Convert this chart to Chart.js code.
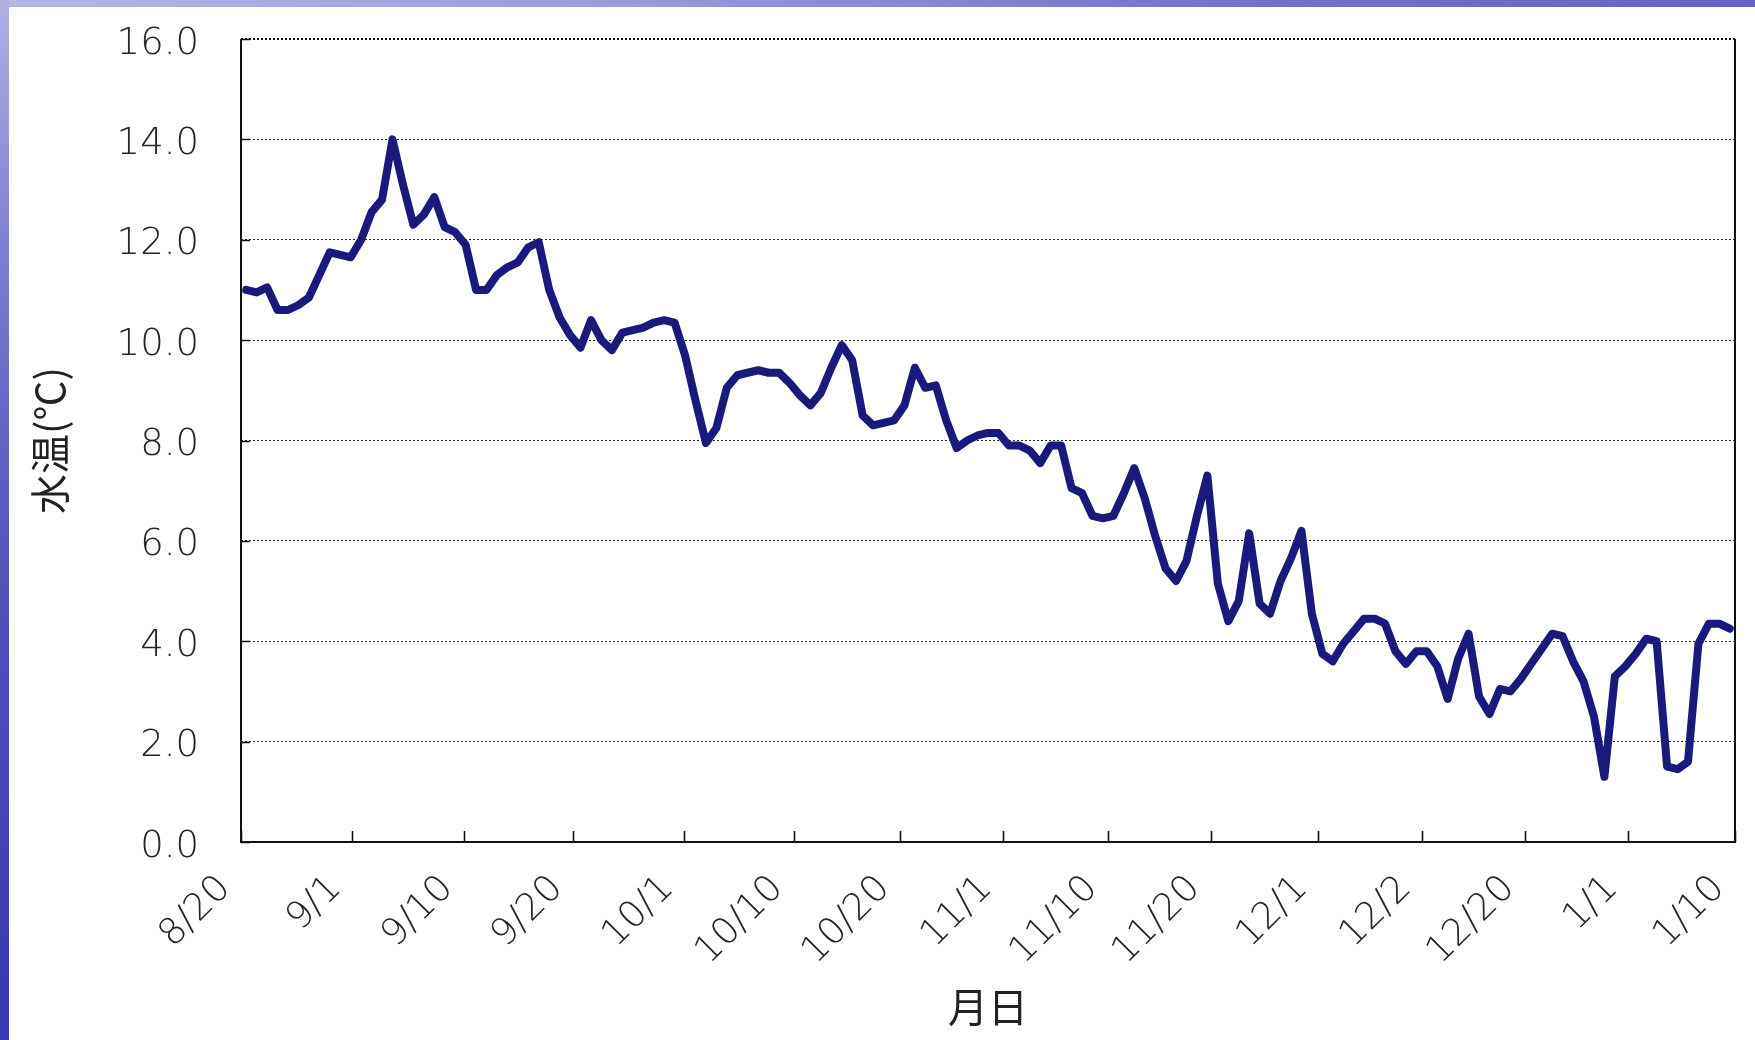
<!DOCTYPE html>
<html>
<head>
<meta charset="utf-8">
<script src="https://cdn.jsdelivr.net/npm/chart.js@4.4.1/dist/chart.umd.min.js"></script>
<style>
  html, body { margin: 0; padding: 0; background: #ffffff; width: 1755px; height: 1040px; overflow: hidden; }
  #bandTop { position: absolute; left: 0; top: 0; width: 1755px; height: 7px;
    background: linear-gradient(to right, #b6b6e6 0%, #9a9adc 35%, #7474cc 70%, #6262c2 100%); }
  #bandLeft { position: absolute; left: 0; top: 0; width: 9px; height: 1040px;
    background: linear-gradient(to bottom, #b0b0e6 0%, #7c7cd0 25%, #5252bc 55%, #3838b0 100%); }
  #wrap { position: absolute; left: 0; top: 0; width: 1755px; height: 1040px; }
</style>
</head>
<body>
<div id="bandTop"></div>
<div id="bandLeft"></div>
<div id="wrap"><canvas id="c" width="1755" height="1040"></canvas></div>
<script>
// ---- data ----
const tickLabels = ['8/20','9/1','9/10','9/20','10/1','10/10','10/20','11/1','11/10','11/20','12/1','12/2','12/20','1/1','1/10'];
// category-boundary positions (in units of data points) where the labelled tick marks sit
const tickPos = [0, 10.6, 21.3, 31.8, 42.4, 52.9, 63.1, 72.9, 83, 92.8, 103.1, 113, 122.9, 132.8, 143];
const yTicks = [0, 2, 4, 6, 8, 10, 12, 14, 16];
const waterTemp = [
  11.0, 10.95, 11.05, 10.6, 10.6, 10.7, 10.85, 11.3, 11.75, 11.7,
  11.65, 12.0, 12.55, 12.8, 14.0, 13.1, 12.3, 12.5, 12.85, 12.25,
  12.15, 11.9, 11.0, 11.0, 11.3, 11.45, 11.55, 11.85, 11.95, 11.0,
  10.45, 10.1, 9.85, 10.4, 10.0, 9.8, 10.15, 10.2, 10.25, 10.35,
  10.4, 10.35, 9.7, 8.8, 7.95, 8.25, 9.05, 9.3, 9.35, 9.4,
  9.35, 9.35, 9.15, 8.9, 8.7, 8.95, 9.45, 9.9, 9.6, 8.5,
  8.3, 8.35, 8.4, 8.7, 9.45, 9.05, 9.1, 8.4, 7.85, 8.0,
  8.1, 8.15, 8.15, 7.9, 7.9, 7.8, 7.55, 7.9, 7.9, 7.05,
  6.95, 6.5, 6.45, 6.5, 6.95, 7.45, 6.85, 6.1, 5.45, 5.2,
  5.6, 6.5, 7.3, 5.15, 4.4, 4.8, 6.15, 4.75, 4.55, 5.2,
  5.65, 6.2, 4.55, 3.75, 3.6, 3.95, 4.2, 4.45, 4.45, 4.35,
  3.8, 3.55, 3.8, 3.8, 3.5, 2.85, 3.65, 4.15, 2.9, 2.55,
  3.05, 3.0, 3.25, 3.55, 3.85, 4.15, 4.1, 3.6, 3.2, 2.5,
  1.3, 3.3, 3.5, 3.75, 4.05, 4.0, 1.5, 1.45, 1.6, 3.95,
  4.35, 4.35, 4.25
];
const xTitle = '月日';
const yTitle = '水温(℃)';

// ---- chart ----
const tickFont = { family: "'DejaVu Sans', 'Liberation Sans', sans-serif", size: 37, weight: 300 };
const titleFont = { family: "'Noto Sans CJK JP', 'Noto Sans CJK KR', sans-serif", size: 40, weight: 'normal' };

const framePlugin = {
  id: 'frame',
  beforeDatasetsDraw(chart) {
    const { ctx, chartArea: a, scales: { x, y } } = chart;
    ctx.save();
    ctx.strokeStyle = '#111';
    ctx.lineWidth = 2;
    ctx.beginPath();
    ctx.moveTo(a.left, a.top);
    ctx.lineTo(a.left, a.bottom);
    ctx.lineTo(a.right, a.bottom);
    ctx.lineTo(a.right, a.top);
    ctx.stroke();
    ctx.setLineDash([2, 2]);
    ctx.beginPath();
    ctx.moveTo(a.left, a.top);
    ctx.lineTo(a.right, a.top);
    ctx.stroke();
    ctx.setLineDash([]);
    ctx.lineWidth = 1.6;
    ctx.beginPath();
    x.ticks.forEach(t => {
      const px = Math.round(x.getPixelForValue(t.value)) + 0.5;
      ctx.moveTo(px, a.bottom);
      ctx.lineTo(px, a.bottom - 11);
    });
    y.ticks.forEach(t => {
      const py = Math.round(y.getPixelForValue(t.value)) + 0.5;
      ctx.moveTo(a.left, py);
      ctx.lineTo(a.left + 9, py);
    });
    ctx.stroke();
    ctx.restore();
  }
};

new Chart(document.getElementById('c'), {
  type: 'line',
  data: {
    datasets: [{
      data: waterTemp.map((v, i) => ({ x: i + 0.5, y: v })),
      borderColor: '#1a1a7c',
      borderWidth: 8,
      pointRadius: 0,
      tension: 0,
      borderJoinStyle: 'round',
      borderCapStyle: 'round',
      fill: false
    }]
  },
  options: {
    responsive: false,
    animation: false,
    devicePixelRatio: 1,
    layout: { autoPadding: false, padding: { left: 0, top: 39, right: 20, bottom: 0 } },
    plugins: { legend: { display: false }, tooltip: { enabled: false } },
    scales: {
      x: {
        type: 'linear',
        min: 0,
        max: waterTemp.length,
        afterBuildTicks: s => { s.ticks = tickPos.map(v => ({ value: v })); },
        afterFit: s => { s.height = 198; s.paddingLeft = 0; s.paddingRight = 0; s.paddingTop = 0; s.paddingBottom = 0; },
        grid: { display: false, drawTicks: false },
        border: { display: false },
        ticks: {
          autoSkip: false,
          minRotation: 45,
          maxRotation: 45,
          padding: 25,
          labelOffset: -16,
          color: '#262626',
          font: tickFont,
          callback: (v, i) => tickLabels[i]
        },
        title: { display: true, text: xTitle, color: '#222', font: titleFont, padding: { top: 0, bottom: 9 } }
      },
      y: {
        min: 0,
        max: 16,
        afterBuildTicks: s => { s.ticks = yTicks.map(v => ({ value: v })); },
        afterFit: s => { s.width = 241; s.paddingTop = 0; s.paddingBottom = 0; s.paddingLeft = 0; s.paddingRight = 0; },
        grid: { color: '#2a2a2a', lineWidth: 1, drawTicks: false },
        border: { display: false, dash: [2, 2] },
        ticks: {
          padding: 42,
          labelOffset: 5,
          color: '#262626',
          font: tickFont,
          callback: v => Number(v).toFixed(1)
        },
        title: { display: true, text: yTitle, color: '#222', font: titleFont, padding: { top: 26, bottom: 0 } }
      }
    }
  },
  plugins: [framePlugin]
});
</script>
</body>
</html>
